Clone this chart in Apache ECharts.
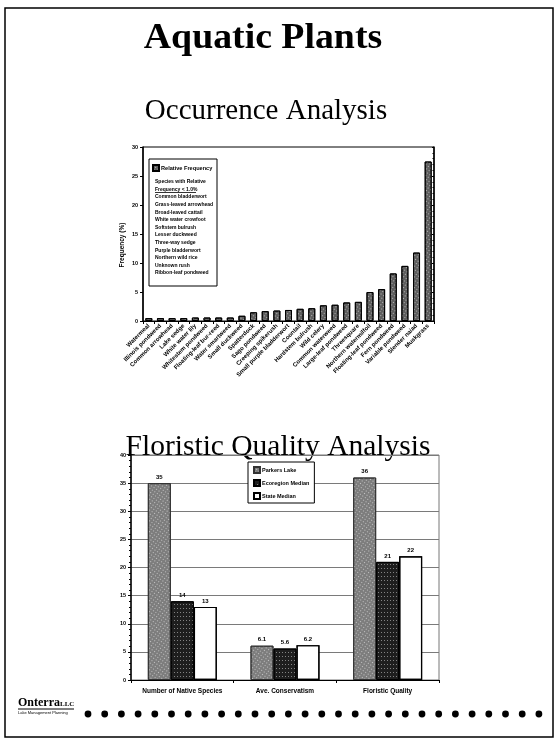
<!DOCTYPE html>
<html>
<head>
<meta charset="utf-8">
<script src="https://cdn.jsdelivr.net/npm/echarts@6/dist/echarts.min.js"></script>
<style>
html,body{margin:0;padding:0;background:#fff}
#c{width:559px;height:742px}
</style>
</head>
<body>
<div id="c"></div>
<script>
// Occurrence analysis: relative frequency (%) by species
const speciesNames = [
  'Watermeal', 'Illinois pondweed', 'Common arrowhead', 'Lake sedge',
  'White water lily', 'Whitestem pondweed', 'Floating-leaf bur-reed',
  'Water smartweed', 'Small duckweed', 'Spatterdock', 'Sago pondweed',
  'Creeping spikerush', 'Small purple bladderwort', 'Coontail',
  'Hardstem bulrush', 'Wild celery', 'Common waterweed',
  'Large-leaf pondweed', 'Threesquare', 'Northern watermilfoil',
  'Floating-leaf pondweed', 'Fern pondweed', 'Variable pondweed',
  'Slender naiad', 'Muskgrass'
];
const relativeFrequency = [
  0.5, 0.5, 0.5, 0.5, 0.6, 0.6, 0.6, 0.6, 0.9, 1.5, 1.7, 1.8, 1.9,
  2.1, 2.2, 2.7, 2.8, 3.2, 3.3, 5.0, 5.5, 8.2, 9.5, 11.8, 27.5
];
const rareSpeciesTitle = ['Species with Relative', 'Frequency < 1.0%'];
const rareSpecies = [
  'Common bladderwort', 'Grass-leaved arrowhead', 'Broad-leaved cattail',
  'White water crowfoot', 'Softstem bulrush', 'Lesser duckweed',
  'Three-way sedge', 'Purple bladderwort', 'Northern wild rice',
  'Unknown rush', 'Ribbon-leaf pondweed'
];
const frequencyTicks = { min: 0, max: 30, interval: 5 };

// Floristic quality analysis
const fqaMetrics = ['Number of Native Species', 'Ave. Conservatism', 'Floristic Quality'];
const fqaSeriesNames = ['Parkers Lake', 'Ecoregion Median', 'State Median'];
const parkersLake = [35, 6.1, 36];
const ecoregionMedian = [14, 5.6, 21];
const stateMedian = [13, 6.2, 22];
const fqaTicks = { min: 0, max: 40, interval: 5 };

const chart = echarts.init(document.getElementById('c'), null, { renderer: 'canvas' });

const serif = '"Liberation Serif", "Times New Roman", serif';
const sans = '"Liberation Sans", Arial, sans-serif';

const speckleGray = {
  symbol: 'rect', symbolSize: 1, color: 'rgba(255,255,255,0.55)',
  dashArrayX: [1, 2], dashArrayY: [1, 2], rotation: 0.6
};
const speckleDark = {
  symbol: 'rect', symbolSize: 1, color: 'rgba(255,255,255,0.45)',
  dashArrayX: [1, 2], dashArrayY: [1, 3], rotation: 0
};
const noDecal = { symbol: 'none' };

const fqaLabel = {
  show: true, position: 'top', distance: 3,
  fontSize: 6, fontWeight: 'bold', fontFamily: sans, color: '#000',
  formatter: p => String(p.value)
};

// decorative dot row along the footer
const dots = [];
for (let i = 0; i < 28; i++) {
  dots.push({
    type: 'circle', silent: true,
    shape: { cx: 88 + i * 16.7, cy: 714, r: 3.4 },
    style: { fill: '#000' }
  });
}

const legendLines = rareSpeciesTitle.concat(rareSpecies);

function centered(text, x, y, font, extra) {
  return Object.assign({
    type: 'text', silent: true, x: x, y: y,
    style: { text: text, font: font, fill: '#000',
      textAlign: 'center', textVerticalAlign: 'middle', align: 'center', verticalAlign: 'middle' }
  }, extra || {});
}

chart.setOption({
  animation: false,
  backgroundColor: '#fff',
  aria: { enabled: true, decal: { show: true } },
  grid: [
    { left: 143, top: 147, width: 291, height: 174, show: true,
      borderColor: '#000', borderWidth: 1, backgroundColor: 'transparent' },
    { left: 131, top: 455, width: 308, height: 225, show: true,
      borderColor: '#777', borderWidth: 1, backgroundColor: 'transparent' }
  ],
  legend: [
    { data: ['Relative Frequency'], left: 152, top: 164, padding: 0,
      itemWidth: 6, itemHeight: 6, icon: 'rect',
      textStyle: { fontSize: 5.6, fontWeight: 'bold', fontFamily: sans, color: '#000', padding: [0, 0, 0, -3] } },
    { data: fqaSeriesNames, orient: 'vertical', left: 248, top: 462,
      backgroundColor: '#fff', borderColor: '#000', borderWidth: 1,
      padding: [4, 5, 3, 5], itemGap: 5, itemWidth: 6, itemHeight: 6, icon: 'rect',
      textStyle: { fontSize: 5.5, fontWeight: 'bold', fontFamily: sans, color: '#000',
        padding: [0, 0, 0, -3], lineHeight: 7 } }
  ],
  xAxis: [
    { type: 'category', gridIndex: 0, data: speciesNames,
      axisLine: { lineStyle: { color: '#000', width: 1 } },
      axisTick: { show: true, length: 3, lineStyle: { color: '#000' } },
      axisLabel: { interval: 0, rotate: 45, margin: 4, fontSize: 6, fontWeight: 'bold',
        fontFamily: sans, color: '#000' } },
    { type: 'category', gridIndex: 1, data: fqaMetrics,
      axisLine: { lineStyle: { color: '#000', width: 1 } },
      axisTick: { show: true, length: 3, lineStyle: { color: '#000' } },
      axisLabel: { interval: 0, margin: 8, fontSize: 6.5, fontWeight: 'bold', fontFamily: sans, color: '#000' } }
  ],
  yAxis: [
    { type: 'value', gridIndex: 0, min: frequencyTicks.min, max: frequencyTicks.max,
      interval: frequencyTicks.interval,
      axisLine: { show: true, lineStyle: { color: '#000', width: 1.5 } },
      axisTick: { show: true, length: 3, lineStyle: { color: '#000' } },
      splitLine: { show: false },
      axisLabel: { margin: 5, fontSize: 5.5, fontWeight: 'bold', fontFamily: sans, color: '#000' } },
    { type: 'value', gridIndex: 1, min: fqaTicks.min, max: fqaTicks.max,
      interval: fqaTicks.interval,
      axisLine: { show: true, lineStyle: { color: '#000', width: 1.5 } },
      axisTick: { show: true, length: 3, lineStyle: { color: '#000' } },
      minorTick: { show: true, splitNumber: 5, length: 2, lineStyle: { color: '#000' } },
      splitLine: { show: true, lineStyle: { color: '#7a7a7a', width: 1 } },
      axisLabel: { margin: 5, fontSize: 5.5, fontWeight: 'bold', fontFamily: sans, color: '#000' } },
    { type: 'value', gridIndex: 0, position: 'right', min: frequencyTicks.min,
      max: frequencyTicks.max, interval: frequencyTicks.interval,
      axisLine: { show: true, lineStyle: { color: '#000', width: 1.5 } },
      axisTick: { show: true, inside: true, length: 2, lineStyle: { color: '#000' } },
      minorTick: { show: true, splitNumber: 5, length: 1.5, lineStyle: { color: '#000' } },
      axisLabel: { show: false }, splitLine: { show: false } }
  ],
  series: [
    { name: 'Relative Frequency', type: 'bar', xAxisIndex: 0, yAxisIndex: 0,
      data: relativeFrequency, barWidth: 7,
      itemStyle: { color: '#5e5e5e', borderColor: '#000', borderWidth: 1, decal: speckleGray } },
    { name: fqaSeriesNames[0], type: 'bar', xAxisIndex: 1, yAxisIndex: 1,
      data: parkersLake, barWidth: 23, barGap: '0%', label: fqaLabel,
      itemStyle: { color: '#7d7d7d', borderColor: '#333', borderWidth: 1, decal: speckleGray } },
    { name: fqaSeriesNames[1], type: 'bar', xAxisIndex: 1, yAxisIndex: 1,
      data: ecoregionMedian, barWidth: 23, barGap: '0%', label: fqaLabel,
      itemStyle: { color: '#1e1e1e', borderColor: '#000', borderWidth: 1, decal: speckleDark } },
    { name: fqaSeriesNames[2], type: 'bar', xAxisIndex: 1, yAxisIndex: 1,
      data: stateMedian, barWidth: 23, barGap: '0%', label: fqaLabel,
      itemStyle: { color: '#ffffff', borderColor: '#000', borderWidth: 1.2, decal: noDecal } }
  ],
  graphic: [
    { type: 'rect', silent: true, shape: { x: 5, y: 8, width: 548, height: 729 },
      style: { fill: 'none', stroke: '#000', lineWidth: 1.5 } },
    centered('Aquatic Plants', 263, 39, 'bold 35px ' + serif, { scaleX: 1.08 }),
    centered('Occurrence Analysis', 266, 111, '29px ' + serif),
    centered('Floristic Quality Analysis', 278, 447, '29.5px ' + serif),
    // y-axis title of the occurrence chart
    centered('Frequency (%)', 122, 245, 'bold 6.5px ' + sans, { rotation: Math.PI / 2 }),
    // boxed legend with the list of rare species
    { type: 'rect', silent: true, z: 1, shape: { x: 149, y: 159, width: 68, height: 127 },
      style: { fill: '#fff', stroke: '#000', lineWidth: 1 } },
    { type: 'text', silent: true, z: 2, x: 155, y: 178,
      style: { text: legendLines.join('\n'), font: 'bold 5px ' + sans, fill: '#000',
        lineHeight: 7.6 } },
    { type: 'line', silent: true, z: 2, shape: { x1: 155, y1: 192.5, x2: 196, y2: 192.5 },
      style: { stroke: '#000', lineWidth: 0.8 } },
    // footer logo
    { type: 'text', silent: true, x: 18, y: 697,
      style: { text: 'Onterra', font: 'bold 12px ' + serif, fill: '#000' } },
    { type: 'text', silent: true, x: 60, y: 701,
      style: { text: 'LLC', font: 'bold 7px ' + serif, fill: '#000' } },
    { type: 'line', silent: true, shape: { x1: 18, y1: 709, x2: 74, y2: 709 },
      style: { stroke: '#000', lineWidth: 1 } },
    { type: 'text', silent: true, x: 18, y: 711,
      style: { text: 'Lake Management Planning', font: '4px ' + sans, fill: '#000' } }
  ].concat(dots)
});
</script>
</body>
</html>
